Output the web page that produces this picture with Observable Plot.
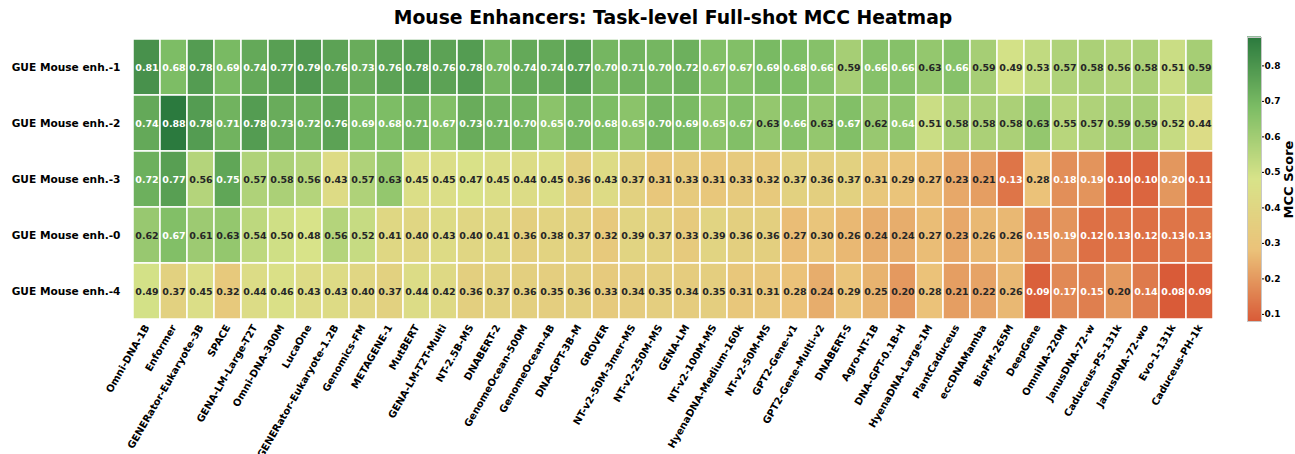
<!DOCTYPE html>
<html><head><meta charset="utf-8">
<script src="https://cdn.jsdelivr.net/npm/d3@7"></script>
<script src="https://cdn.jsdelivr.net/npm/@observablehq/plot@0.6"></script>
<style>
body{margin:0;background:#fff;font-family:"DejaVu Sans",sans-serif;}
#wrap{position:relative;width:1295px;height:454px;overflow:hidden;background:#fff;}
#title{position:absolute;left:123px;width:1100px;top:8px;text-align:center;font-weight:bold;font-size:18.8px;color:#000;font-family:"DejaVu Sans",sans-serif;line-height:1.1;}
#main{position:absolute;left:0;top:37px;}
#cbar{position:absolute;left:1240px;top:37px;}
</style></head><body>
<div id="wrap"><div id="title">Mouse Enhancers: Task-level Full-shot MCC Heatmap</div><div id="main"></div><div id="cbar"></div></div>
<script>
const models = ["Omni-DNA-1B","Enformer","GENERator-Eukaryote-3B","SPACE","GENA-LM-Large-T2T","Omni-DNA-300M","LucaOne","GENERator-Eukaryote-1.2B","Genomics-FM","METAGENE-1","MutBERT","GENA-LM-T2T-Multi","NT-2.5B-MS","DNABERT-2","GenomeOcean-500M","GenomeOcean-4B","DNA-GPT-3B-M","GROVER","NT-v2-50M-3mer-MS","NT-v2-250M-MS","GENA-LM","NT-v2-100M-MS","HyenaDNA-Medium-160k","NT-v2-50M-MS","GPT2-Gene-v1","GPT2-Gene-Multi-v2","DNABERT-S","Agro-NT-1B","DNA-GPT-0.1B-H","HyenaDNA-Large-1M","PlantCaduceus","eccDNAMamba","BioFM-265M","DeepGene","OmniNA-220M","JanusDNA-72-w","Caduceus-PS-131k","JanusDNA-72-wo","Evo-1-131k","Caduceus-PH-1k"];
const tasks = ["GUE Mouse enh.-1","GUE Mouse enh.-2","GUE Mouse enh.-3","GUE Mouse enh.-0","GUE Mouse enh.-4"];
const enh1 = [0.81,0.68,0.78,0.69,0.74,0.77,0.79,0.76,0.73,0.76,0.78,0.76,0.78,0.70,0.74,0.74,0.77,0.70,0.71,0.70,0.72,0.67,0.67,0.69,0.68,0.66,0.59,0.66,0.66,0.63,0.66,0.59,0.49,0.53,0.57,0.58,0.56,0.58,0.51,0.59];
const enh2 = [0.74,0.88,0.78,0.71,0.78,0.73,0.72,0.76,0.69,0.68,0.71,0.67,0.73,0.71,0.70,0.65,0.70,0.68,0.65,0.70,0.69,0.65,0.67,0.63,0.66,0.63,0.67,0.62,0.64,0.51,0.58,0.58,0.58,0.63,0.55,0.57,0.59,0.59,0.52,0.44];
const enh3 = [0.72,0.77,0.56,0.75,0.57,0.58,0.56,0.43,0.57,0.63,0.45,0.45,0.47,0.45,0.44,0.45,0.36,0.43,0.37,0.31,0.33,0.31,0.33,0.32,0.37,0.36,0.37,0.31,0.29,0.27,0.23,0.21,0.13,0.28,0.18,0.19,0.10,0.10,0.196,0.11];
const enh0 = [0.62,0.67,0.61,0.63,0.54,0.50,0.48,0.56,0.52,0.41,0.40,0.43,0.40,0.41,0.36,0.38,0.37,0.32,0.39,0.37,0.33,0.39,0.36,0.36,0.27,0.30,0.26,0.24,0.24,0.27,0.23,0.26,0.26,0.15,0.19,0.12,0.13,0.12,0.13,0.13];
const enh4 = [0.49,0.37,0.45,0.32,0.44,0.46,0.43,0.43,0.40,0.37,0.44,0.42,0.36,0.37,0.36,0.35,0.36,0.33,0.34,0.35,0.34,0.35,0.31,0.31,0.28,0.24,0.29,0.25,0.20,0.28,0.21,0.22,0.26,0.09,0.17,0.15,0.20,0.14,0.08,0.09];
const colorbarTicks = [0.1,0.2,0.3,0.4,0.5,0.6,0.7,0.8];

const rows = [enh1, enh2, enh3, enh0, enh4];
const data = [];
tasks.forEach((t, i) => models.forEach((m, j) => data.push({task: t, model: m, value: rows[i][j]})));

const vmin = 0.08, vmax = 0.88;
const colorSpec = {
  type: "linear",
  domain: [0.08, 0.28, 0.48, 0.68, 0.88],
  range: ["#d95b38", "#ebc279", "#d8e389", "#7dbd65", "#2b7a3e"],
  clamp: true
};
const textColor = d => (d.value >= 0.635 || d.value < 0.2) ? "#ffffff" : "#262626";

const main = Plot.plot({
  width: 1230, height: 417,
  marginLeft: 123, marginRight: 7, marginTop: 0, marginBottom: 133,
  style: {fontFamily: "DejaVu Sans, sans-serif", fontWeight: "bold", color: "#000", background: "transparent"},
  x: {domain: models, padding: 0, label: null},
  y: {domain: tasks, padding: 0, label: null},
  color: colorSpec,
  marks: [
    Plot.cell(data, {x: "model", y: "task", fill: "value", inset: 0, stroke: "#ffffff", strokeWidth: 1.5}),
    Plot.text(data, {x: "model", y: "task", text: d => d.value.toFixed(2), fill: textColor, fontSize: 9.5, fontWeight: "bold"}),
    Plot.axisY({tickSize: 0, tickPadding: 3, fontSize: 10.6, fontWeight: "bold", label: null}),
    Plot.axisX({tickSize: 0, tickPadding: 4, tickRotate: -60, fontSize: 10, fontWeight: "bold", label: null})
  ]
});
document.getElementById("main").appendChild(main);

const nSteps = 284;
const stepH = (vmax - vmin) / nSteps;
const steps = d3.range(nSteps).map(i => vmin + i * stepH);
const cb = Plot.plot({
  width: 55, height: 284,
  marginTop: 0, marginBottom: 0, marginLeft: 7, marginRight: 34,
  style: {fontFamily: "DejaVu Sans, sans-serif", fontWeight: "bold", color: "#000", background: "transparent", overflow: "visible"},
  x: {axis: null, domain: [0, 1]},
  y: {domain: [vmin, vmax], axis: null},
  color: colorSpec,
  marks: [
    Plot.rect(steps, {x1: 0, x2: 1, y1: d => d, y2: d => d + stepH * 1.5, fill: d => d + stepH / 2}),
    Plot.frame({stroke: "#c8c8c8", strokeWidth: 1}),
    Plot.axisY({anchor: "right", ticks: colorbarTicks, tickFormat: ".1f", tickSize: 2, tickPadding: 1, fontSize: 9, fontWeight: "bold", label: null}),
    Plot.text(["MCC Score"], {frameAnchor: "right", dx: 27.5, rotate: -90, textAnchor: "middle", lineAnchor: "middle", fontSize: 13, fontWeight: "bold", fill: "#000"})
  ]
});
document.getElementById("cbar").appendChild(cb);
</script>
</body></html>
